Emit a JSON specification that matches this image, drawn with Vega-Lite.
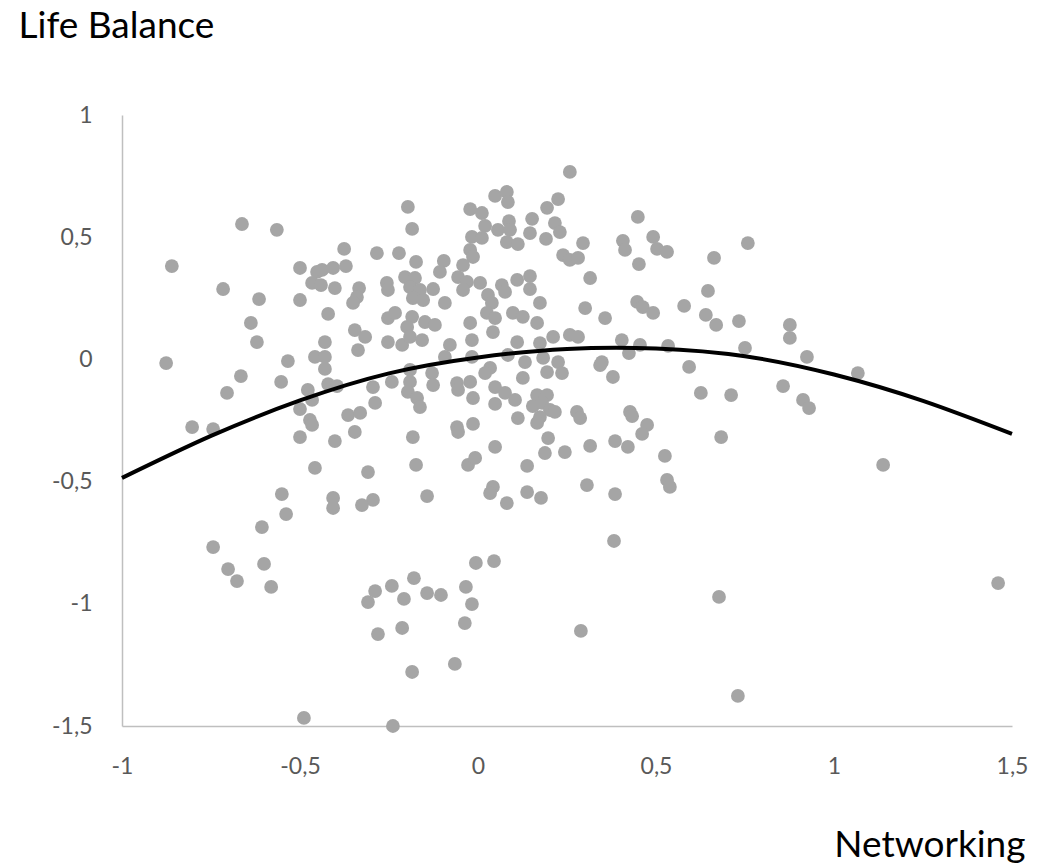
{
  "$schema": "https://vega.github.io/schema/vega-lite/v6.json",
  "width": 890,
  "height": 611,
  "autosize": {"type": "none"},
  "padding": {"left": 122, "top": 115, "right": 35, "bottom": 138},
  "background": "white",
  "config": {"view": {"stroke": null}, "font": "Lato"},
  "datasets": {
    "trend": [
      {"networking": -1.0, "life_balance": -0.485},
      {"networking": -0.75, "life_balance": -0.313},
      {"networking": -0.5, "life_balance": -0.168},
      {"networking": -0.25, "life_balance": -0.057},
      {"networking": 0.0, "life_balance": 0.008},
      {"networking": 0.25, "life_balance": 0.043},
      {"networking": 0.5, "life_balance": 0.045},
      {"networking": 0.75, "life_balance": 0.013},
      {"networking": 1.0, "life_balance": -0.062},
      {"networking": 1.25, "life_balance": -0.17},
      {"networking": 1.5, "life_balance": -0.305}
    ],
    "survey": [
    {"networking": -0.663, "life_balance": 0.554},
    {"networking": -0.565, "life_balance": 0.530},
    {"networking": -0.860, "life_balance": 0.382},
    {"networking": -0.716, "life_balance": 0.288},
    {"networking": -0.615, "life_balance": 0.247},
    {"networking": -0.638, "life_balance": 0.149},
    {"networking": -0.500, "life_balance": 0.374},
    {"networking": -0.500, "life_balance": 0.243},
    {"networking": -0.197, "life_balance": 0.624},
    {"networking": -0.185, "life_balance": 0.534},
    {"networking": -0.022, "life_balance": 0.615},
    {"networking": -0.017, "life_balance": 0.501},
    {"networking": -0.022, "life_balance": 0.448},
    {"networking": -0.014, "life_balance": 0.419},
    {"networking": -0.376, "life_balance": 0.452},
    {"networking": -0.284, "life_balance": 0.435},
    {"networking": -0.222, "life_balance": 0.435},
    {"networking": -0.174, "life_balance": 0.399},
    {"networking": -0.096, "life_balance": 0.403},
    {"networking": -0.107, "life_balance": 0.358},
    {"networking": -0.042, "life_balance": 0.386},
    {"networking": -0.056, "life_balance": 0.337},
    {"networking": -0.031, "life_balance": 0.317},
    {"networking": -0.452, "life_balance": 0.358},
    {"networking": -0.438, "life_balance": 0.366},
    {"networking": -0.407, "life_balance": 0.374},
    {"networking": -0.371, "life_balance": 0.382},
    {"networking": -0.466, "life_balance": 0.313},
    {"networking": -0.441, "life_balance": 0.304},
    {"networking": -0.402, "life_balance": 0.292},
    {"networking": -0.334, "life_balance": 0.292},
    {"networking": -0.340, "life_balance": 0.255},
    {"networking": -0.351, "life_balance": 0.231},
    {"networking": -0.256, "life_balance": 0.313},
    {"networking": -0.253, "life_balance": 0.284},
    {"networking": -0.205, "life_balance": 0.337},
    {"networking": -0.177, "life_balance": 0.333},
    {"networking": -0.191, "life_balance": 0.296},
    {"networking": -0.163, "life_balance": 0.284},
    {"networking": -0.126, "life_balance": 0.288},
    {"networking": -0.183, "life_balance": 0.251},
    {"networking": -0.154, "life_balance": 0.243},
    {"networking": -0.093, "life_balance": 0.231},
    {"networking": -0.042, "life_balance": 0.284},
    {"networking": -0.421, "life_balance": 0.186},
    {"networking": -0.253, "life_balance": 0.169},
    {"networking": -0.233, "life_balance": 0.190},
    {"networking": -0.185, "life_balance": 0.174},
    {"networking": -0.149, "life_balance": 0.153},
    {"networking": -0.121, "life_balance": 0.141},
    {"networking": -0.199, "life_balance": 0.133},
    {"networking": -0.346, "life_balance": 0.120},
    {"networking": -0.022, "life_balance": 0.149},
    {"networking": 0.258, "life_balance": 0.767},
    {"networking": 0.048, "life_balance": 0.669},
    {"networking": 0.081, "life_balance": 0.685},
    {"networking": 0.084, "life_balance": 0.644},
    {"networking": 0.225, "life_balance": 0.656},
    {"networking": 0.194, "life_balance": 0.620},
    {"networking": 0.449, "life_balance": 0.583},
    {"networking": 0.152, "life_balance": 0.575},
    {"networking": 0.216, "life_balance": 0.558},
    {"networking": 0.230, "life_balance": 0.521},
    {"networking": 0.087, "life_balance": 0.566},
    {"networking": 0.011, "life_balance": 0.599},
    {"networking": 0.020, "life_balance": 0.546},
    {"networking": 0.056, "life_balance": 0.530},
    {"networking": 0.090, "life_balance": 0.530},
    {"networking": 0.011, "life_balance": 0.497},
    {"networking": 0.081, "life_balance": 0.480},
    {"networking": 0.112, "life_balance": 0.472},
    {"networking": 0.146, "life_balance": 0.517},
    {"networking": 0.191, "life_balance": 0.493},
    {"networking": 0.295, "life_balance": 0.476},
    {"networking": 0.407, "life_balance": 0.485},
    {"networking": 0.413, "life_balance": 0.448},
    {"networking": 0.492, "life_balance": 0.501},
    {"networking": 0.503, "life_balance": 0.452},
    {"networking": 0.239, "life_balance": 0.427},
    {"networking": 0.258, "life_balance": 0.407},
    {"networking": 0.281, "life_balance": 0.415},
    {"networking": 0.452, "life_balance": 0.390},
    {"networking": 0.315, "life_balance": 0.333},
    {"networking": 0.006, "life_balance": 0.313},
    {"networking": 0.067, "life_balance": 0.304},
    {"networking": 0.110, "life_balance": 0.325},
    {"networking": 0.146, "life_balance": 0.341},
    {"networking": 0.146, "life_balance": 0.288},
    {"networking": 0.028, "life_balance": 0.264},
    {"networking": 0.076, "life_balance": 0.276},
    {"networking": 0.039, "life_balance": 0.231},
    {"networking": 0.174, "life_balance": 0.231},
    {"networking": 0.025, "life_balance": 0.190},
    {"networking": 0.048, "life_balance": 0.169},
    {"networking": 0.098, "life_balance": 0.190},
    {"networking": 0.126, "life_balance": 0.174},
    {"networking": 0.166, "life_balance": 0.149},
    {"networking": 0.301, "life_balance": 0.210},
    {"networking": 0.357, "life_balance": 0.169},
    {"networking": 0.447, "life_balance": 0.235},
    {"networking": 0.463, "life_balance": 0.214},
    {"networking": 0.492, "life_balance": 0.190},
    {"networking": 0.758, "life_balance": 0.476},
    {"networking": 0.531, "life_balance": 0.440},
    {"networking": 0.663, "life_balance": 0.415},
    {"networking": 0.646, "life_balance": 0.280},
    {"networking": 0.579, "life_balance": 0.219},
    {"networking": 0.640, "life_balance": 0.182},
    {"networking": 0.669, "life_balance": 0.141},
    {"networking": 0.733, "life_balance": 0.157},
    {"networking": 0.876, "life_balance": 0.141},
    {"networking": -0.621, "life_balance": 0.071},
    {"networking": -0.876, "life_balance": -0.015},
    {"networking": -0.534, "life_balance": -0.007},
    {"networking": -0.666, "life_balance": -0.068},
    {"networking": -0.553, "life_balance": -0.092},
    {"networking": -0.705, "life_balance": -0.137},
    {"networking": -0.803, "life_balance": -0.277},
    {"networking": -0.744, "life_balance": -0.285},
    {"networking": -0.500, "life_balance": -0.203},
    {"networking": -0.500, "life_balance": -0.318},
    {"networking": -0.551, "life_balance": -0.551},
    {"networking": -0.430, "life_balance": 0.071},
    {"networking": -0.317, "life_balance": 0.092},
    {"networking": -0.337, "life_balance": 0.038},
    {"networking": -0.253, "life_balance": 0.071},
    {"networking": -0.213, "life_balance": 0.059},
    {"networking": -0.191, "life_balance": 0.092},
    {"networking": -0.157, "life_balance": 0.079},
    {"networking": -0.079, "life_balance": 0.059},
    {"networking": -0.017, "life_balance": 0.079},
    {"networking": -0.458, "life_balance": 0.010},
    {"networking": -0.430, "life_balance": 0.010},
    {"networking": -0.430, "life_balance": -0.039},
    {"networking": -0.093, "life_balance": 0.010},
    {"networking": -0.017, "life_balance": 0.010},
    {"networking": -0.478, "life_balance": -0.125},
    {"networking": -0.421, "life_balance": -0.101},
    {"networking": -0.396, "life_balance": -0.109},
    {"networking": -0.295, "life_balance": -0.113},
    {"networking": -0.242, "life_balance": -0.092},
    {"networking": -0.191, "life_balance": -0.043},
    {"networking": -0.191, "life_balance": -0.092},
    {"networking": -0.197, "life_balance": -0.133},
    {"networking": -0.129, "life_balance": -0.056},
    {"networking": -0.126, "life_balance": -0.105},
    {"networking": -0.059, "life_balance": -0.097},
    {"networking": -0.022, "life_balance": -0.092},
    {"networking": -0.014, "life_balance": -0.158},
    {"networking": -0.056, "life_balance": -0.125},
    {"networking": -0.466, "life_balance": -0.166},
    {"networking": -0.289, "life_balance": -0.178},
    {"networking": -0.171, "life_balance": -0.158},
    {"networking": -0.163, "life_balance": -0.195},
    {"networking": -0.365, "life_balance": -0.228},
    {"networking": -0.331, "life_balance": -0.219},
    {"networking": -0.472, "life_balance": -0.248},
    {"networking": -0.466, "life_balance": -0.268},
    {"networking": -0.402, "life_balance": -0.334},
    {"networking": -0.346, "life_balance": -0.297},
    {"networking": -0.183, "life_balance": -0.318},
    {"networking": -0.059, "life_balance": -0.277},
    {"networking": -0.056, "life_balance": -0.297},
    {"networking": -0.014, "life_balance": -0.264},
    {"networking": -0.028, "life_balance": -0.432},
    {"networking": -0.008, "life_balance": -0.403},
    {"networking": -0.458, "life_balance": -0.444},
    {"networking": -0.309, "life_balance": -0.461},
    {"networking": -0.174, "life_balance": -0.432},
    {"networking": -0.407, "life_balance": -0.567},
    {"networking": -0.295, "life_balance": -0.575},
    {"networking": -0.326, "life_balance": -0.596},
    {"networking": -0.143, "life_balance": -0.559},
    {"networking": 0.042, "life_balance": 0.112},
    {"networking": 0.211, "life_balance": 0.092},
    {"networking": 0.258, "life_balance": 0.100},
    {"networking": 0.281, "life_balance": 0.092},
    {"networking": 0.404, "life_balance": 0.079},
    {"networking": 0.455, "life_balance": 0.059},
    {"networking": 0.424, "life_balance": 0.026},
    {"networking": 0.174, "life_balance": 0.067},
    {"networking": 0.110, "life_balance": 0.071},
    {"networking": 0.084, "life_balance": 0.018},
    {"networking": 0.132, "life_balance": -0.011},
    {"networking": 0.183, "life_balance": 0.006},
    {"networking": 0.225, "life_balance": -0.011},
    {"networking": 0.194, "life_balance": -0.052},
    {"networking": 0.236, "life_balance": -0.056},
    {"networking": 0.348, "life_balance": -0.011},
    {"networking": 0.343, "life_balance": -0.023},
    {"networking": 0.379, "life_balance": -0.072},
    {"networking": 0.034, "life_balance": -0.035},
    {"networking": 0.020, "life_balance": -0.056},
    {"networking": 0.126, "life_balance": -0.076},
    {"networking": 0.048, "life_balance": -0.113},
    {"networking": 0.076, "life_balance": -0.137},
    {"networking": 0.104, "life_balance": -0.166},
    {"networking": 0.048, "life_balance": -0.182},
    {"networking": 0.166, "life_balance": -0.146},
    {"networking": 0.194, "life_balance": -0.146},
    {"networking": 0.154, "life_balance": -0.191},
    {"networking": 0.180, "life_balance": -0.178},
    {"networking": 0.202, "life_balance": -0.207},
    {"networking": 0.216, "life_balance": -0.215},
    {"networking": 0.174, "life_balance": -0.236},
    {"networking": 0.112, "life_balance": -0.240},
    {"networking": 0.166, "life_balance": -0.260},
    {"networking": 0.278, "life_balance": -0.215},
    {"networking": 0.287, "life_balance": -0.240},
    {"networking": 0.427, "life_balance": -0.215},
    {"networking": 0.433, "life_balance": -0.232},
    {"networking": 0.475, "life_balance": -0.268},
    {"networking": 0.461, "life_balance": -0.305},
    {"networking": 0.197, "life_balance": -0.322},
    {"networking": 0.188, "life_balance": -0.383},
    {"networking": 0.244, "life_balance": -0.379},
    {"networking": 0.315, "life_balance": -0.354},
    {"networking": 0.385, "life_balance": -0.334},
    {"networking": 0.421, "life_balance": -0.358},
    {"networking": 0.048, "life_balance": -0.358},
    {"networking": 0.138, "life_balance": -0.436},
    {"networking": 0.042, "life_balance": -0.522},
    {"networking": 0.034, "life_balance": -0.547},
    {"networking": 0.138, "life_balance": -0.543},
    {"networking": 0.177, "life_balance": -0.567},
    {"networking": 0.081, "life_balance": -0.588},
    {"networking": 0.306, "life_balance": -0.514},
    {"networking": 0.385, "life_balance": -0.551},
    {"networking": 0.534, "life_balance": 0.055},
    {"networking": 0.750, "life_balance": 0.047},
    {"networking": 0.924, "life_balance": 0.010},
    {"networking": 0.593, "life_balance": -0.031},
    {"networking": 1.067, "life_balance": -0.056},
    {"networking": 0.626, "life_balance": -0.137},
    {"networking": 0.711, "life_balance": -0.146},
    {"networking": 0.857, "life_balance": -0.109},
    {"networking": 0.913, "life_balance": -0.166},
    {"networking": 0.930, "life_balance": -0.199},
    {"networking": 0.683, "life_balance": -0.318},
    {"networking": 1.138, "life_balance": -0.432},
    {"networking": 0.525, "life_balance": -0.395},
    {"networking": 0.531, "life_balance": -0.493},
    {"networking": 0.539, "life_balance": -0.522},
    {"networking": 0.876, "life_balance": 0.088},
    {"networking": -0.744, "life_balance": -0.768},
    {"networking": -0.702, "life_balance": -0.858},
    {"networking": -0.677, "life_balance": -0.907},
    {"networking": -0.607, "life_balance": -0.686},
    {"networking": -0.601, "life_balance": -0.837},
    {"networking": -0.581, "life_balance": -0.931},
    {"networking": -0.539, "life_balance": -0.633},
    {"networking": -0.407, "life_balance": -0.608},
    {"networking": -0.180, "life_balance": -0.895},
    {"networking": -0.242, "life_balance": -0.927},
    {"networking": -0.289, "life_balance": -0.948},
    {"networking": -0.309, "life_balance": -0.993},
    {"networking": -0.208, "life_balance": -0.980},
    {"networking": -0.213, "life_balance": -1.099},
    {"networking": -0.281, "life_balance": -1.124},
    {"networking": -0.185, "life_balance": -1.279},
    {"networking": -0.489, "life_balance": -1.467},
    {"networking": -0.239, "life_balance": -1.500},
    {"networking": -0.143, "life_balance": -0.956},
    {"networking": -0.104, "life_balance": -0.964},
    {"networking": -0.034, "life_balance": -0.931},
    {"networking": -0.017, "life_balance": -1.001},
    {"networking": -0.037, "life_balance": -1.079},
    {"networking": -0.065, "life_balance": -1.246},
    {"networking": -0.006, "life_balance": -0.833},
    {"networking": 0.045, "life_balance": -0.825},
    {"networking": 0.289, "life_balance": -1.111},
    {"networking": 0.677, "life_balance": -0.972},
    {"networking": 0.730, "life_balance": -1.377},
    {"networking": 1.461, "life_balance": -0.915},
    {"networking": 0.382, "life_balance": -0.743}
    ]
  },
  "layer": [
    {
      "data": {"name": "survey"},
      "mark": {"type": "circle", "size": 190, "color": "#A5A5A5", "opacity": 1},
      "encoding": {
        "x": {
          "field": "networking", "type": "quantitative",
          "scale": {"domain": [-1, 1.5], "nice": false, "zero": false},
          "axis": {
            "values": [-1, -0.5, 0, 0.5, 1, 1.5],
            "grid": false, "ticks": false,
            "domainColor": "#BFBFBF", "domainWidth": 1.5,
            "labelExpr": "replace(toString(datum.value), '.', ',')",
            "labelFont": "Lato", "labelFontSize": 23, "labelColor": "#595959",
            "labelPadding": 29, "labelFlush": false, "labelOverlap": false,
            "title": "Networking", "titleFont": "Lato", "titleFontSize": 37,
            "titleFontWeight": "normal", "titleColor": "#000000",
            "titleAnchor": "end", "titleAlign": "right", "titleBaseline": "middle",
            "titleX": 903, "titleY": 119
          }
        },
        "y": {
          "field": "life_balance", "type": "quantitative",
          "scale": {"domain": [-1.5, 1], "nice": false, "zero": false},
          "axis": {
            "values": [-1.5, -1, -0.5, 0, 0.5, 1],
            "grid": false, "ticks": false,
            "domainColor": "#BFBFBF", "domainWidth": 1.5,
            "labelExpr": "replace(toString(datum.value), '.', ',')",
            "labelFont": "Lato", "labelFontSize": 23, "labelColor": "#595959",
            "labelPadding": 30, "labelFlush": false, "labelOverlap": false,
            "title": "Life Balance", "titleFont": "Lato", "titleFontSize": 37,
            "titleFontWeight": "normal", "titleColor": "#000000",
            "titleAngle": 0, "titleAlign": "left", "titleBaseline": "middle",
            "titleX": -104, "titleY": -89
          }
        }
      }
    },
    {
      "data": {"name": "trend"},
      "mark": {"type": "line", "color": "#000000", "strokeWidth": 4, "interpolate": "natural"},
      "encoding": {
        "x": {"field": "networking", "type": "quantitative"},
        "y": {"field": "life_balance", "type": "quantitative"}
      }
    }
  ]
}
